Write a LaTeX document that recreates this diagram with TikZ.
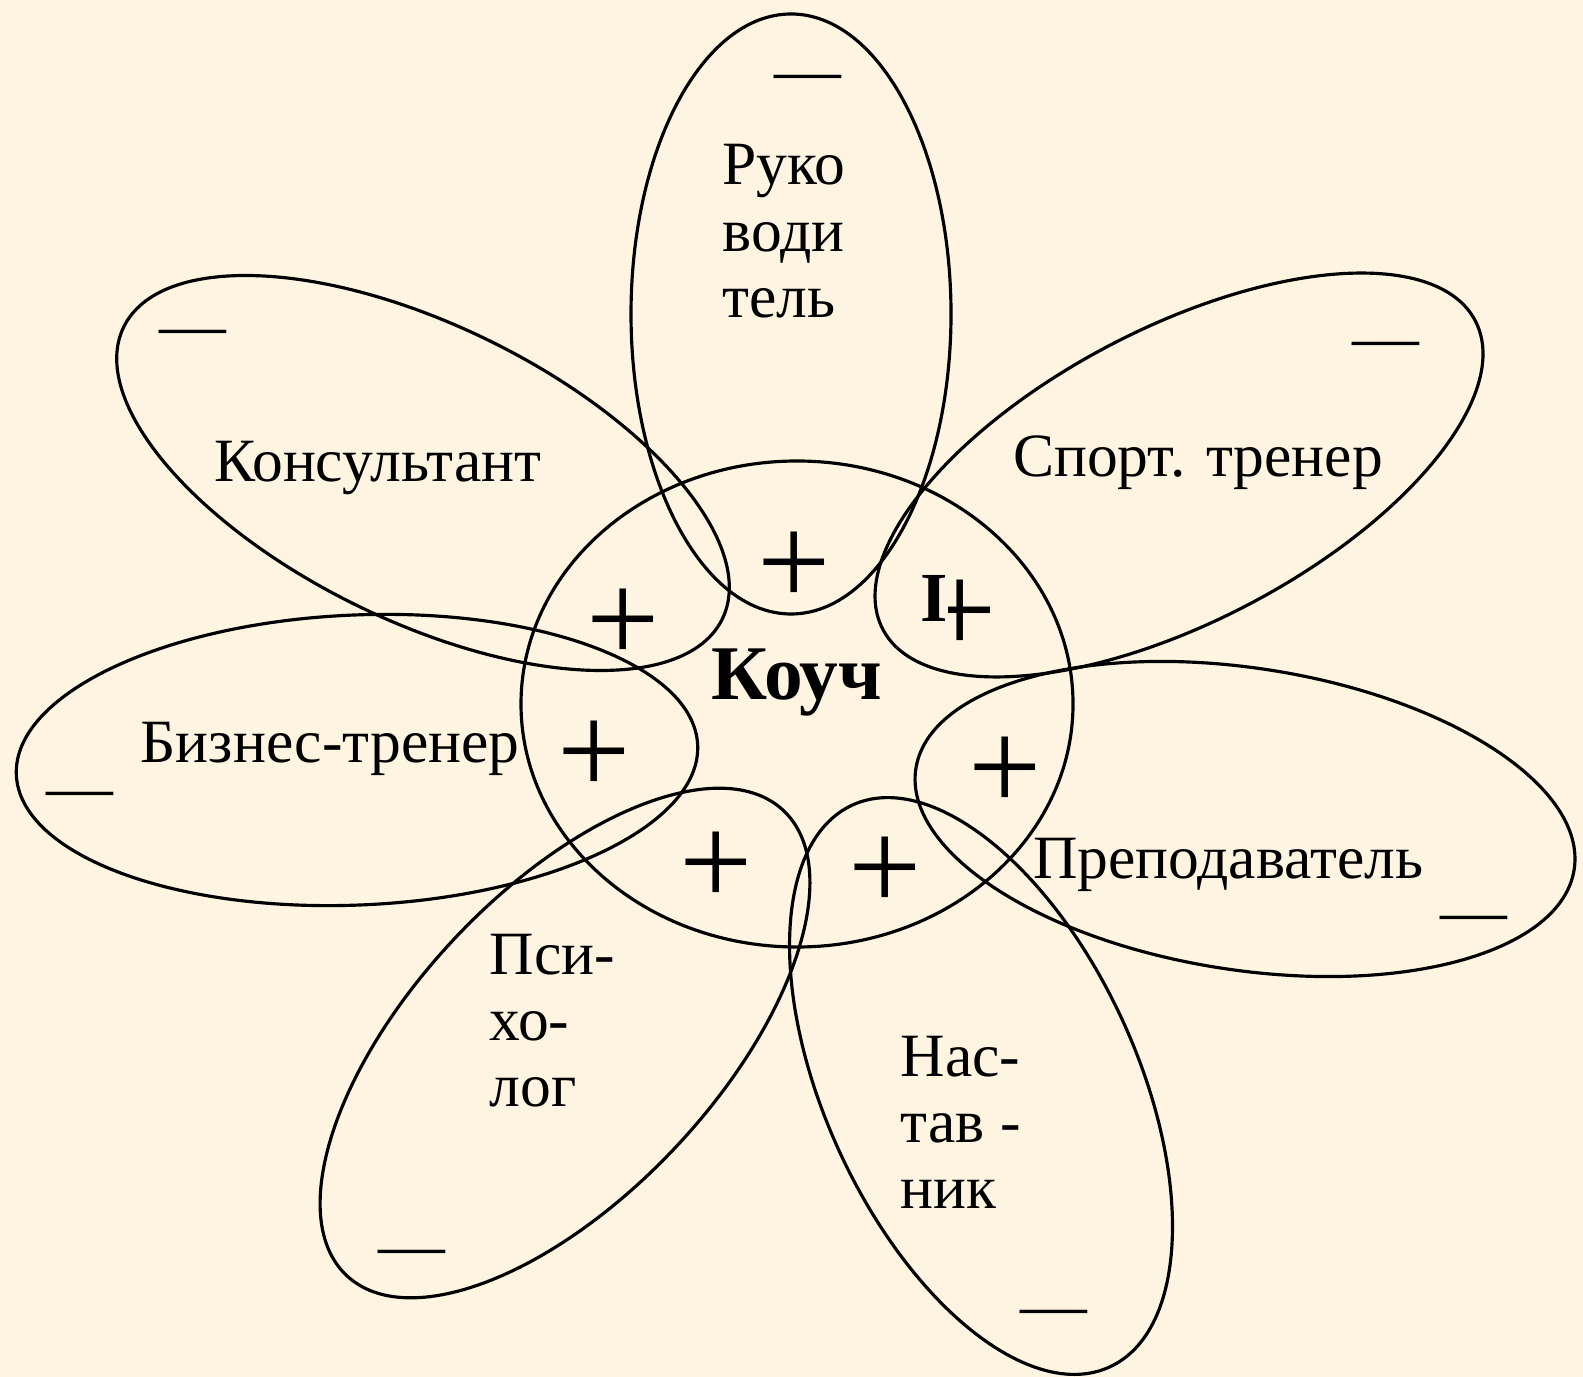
\documentclass[tikz,border=0pt]{standalone}
\usepackage{fontspec}
\setmainfont{Liberation Serif}
\definecolor{paper}{RGB}{253,245,226}

\begin{document}
\begin{tikzpicture}[x=0.01cm, y=0.01cm,
    petal/.style={draw=black, line width=0.9pt},
    word/.style={font=\fontsize{17.5}{18.8}\selectfont, inner sep=0pt, anchor=base},
    stack/.style={font=\fontsize{17.5}{18.8}\selectfont, inner sep=0pt, anchor=north west, align=left},
    boldword/.style={font=\fontsize{20}{22}\selectfont\bfseries, inner sep=0pt, anchor=base},
    plusmark/.style={font=\fontsize{37}{37}\selectfont, inner sep=0pt},
    minusmark/.style={font=\fontsize{19}{19}\selectfont, inner sep=0pt}]
    \fill [paper] (0,0) rectangle (1583,-1377);
    \useasboundingbox (0,0) rectangle (1583,-1377);
    % petals: centre x / centre y / angle / long radius / short radius
    \foreach \cx/\cy/\ang/\ra/\rb in {791/314/90/300/160, 1179/475/27.5/334/147,
        423/473/-26/333/148, 357/760/2.5/341/145, 1245/819/-8.7/333/151,
        981/1086/-65.4/309/156, 565/1043/46.8/319/152}
        \draw [petal, rotate around={\ang:(\cx,-\cy)}] (\cx,-\cy) ellipse [x radius=\ra, y radius=\rb];
    \draw [petal] (797,-704) ellipse [x radius=276, y radius=243];
    % plus signs inside the middle
    \node [plusmark] (p1) at (794,-569) {+};
    \node [plusmark] (p2) at (623,-626) {+};
    \node [plusmark] (p3) at (594,-758) {+};
    \node [plusmark] (p4) at (1005,-774) {+};
    \node [plusmark] (p5) at (716,-869) {+};
    \node [plusmark] (p6) at (885,-874) {+};
    \node [plusmark] (p7) at (960,-617) {+};
    \node [boldword, fill=paper] (stray) at (934,-622) {I};
    % minus signs at the tips
    \node [minusmark] (m1) at (808,-84) {—};
    \node [minusmark] (m2) at (193,-339) {—};
    \node [minusmark] (m3) at (1386,-351) {—};
    \node [minusmark] (m4) at (80,-801) {—};
    \node [minusmark] (m5) at (1474,-925) {—};
    \node [minusmark] (m6) at (412,-1259) {—};
    \node [minusmark] (m7) at (1054,-1319) {—};
    % labels
    \node [boldword, font=\fontsize{22}{24}\selectfont\bfseries] (coach) at (797,-700) {Коуч};
    \node [stack] (lead) at (722,-144) {Руко\\води\\тель};
    \node [word] (cons) at (378,-482) {Консультант};
    \node [word] (sport) at (1198,-477) {Спорт. тренер};
    \node [word] (biz) at (330,-762) {Бизнес-тренер};
    \node [word] (teach) at (1228,-878) {Преподаватель};
    \node [stack] (psy) at (489,-933) {Пси-\\хо-\\лог};
    \node [stack] (mentor) at (900,-1035) {Нас-\\тав -\\ник};
\end{tikzpicture}
\end{document}
